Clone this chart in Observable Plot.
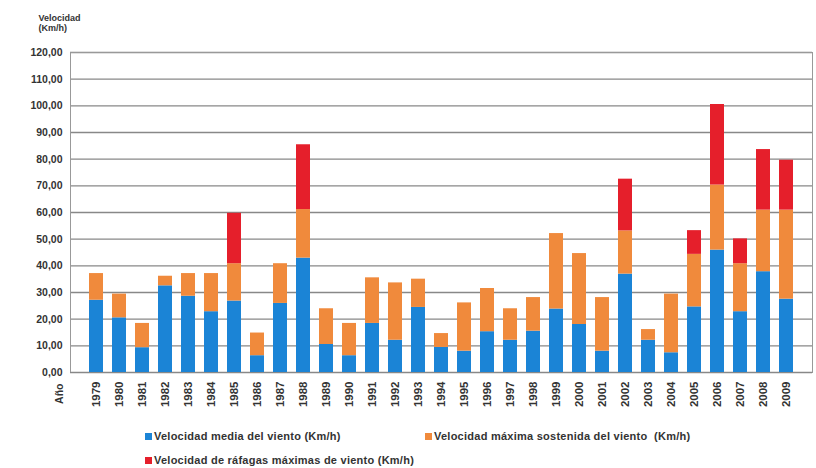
<!DOCTYPE html>
<html>
<head>
<meta charset="utf-8">
<script src="https://cdn.jsdelivr.net/npm/d3@7"></script>
<script src="https://cdn.jsdelivr.net/npm/@observablehq/plot@0.6"></script>
<style>
  html, body { margin: 0; padding: 0; background: #fff; }
  #chart { position: relative; width: 816px; height: 468px; font-family: "Liberation Sans", Arial, sans-serif; }
  .legend { position: absolute; left: 145px; top: 430px; font-size: 11px; letter-spacing: 0.25px; font-weight: bold; color: #333; display: grid; grid-template-columns: 280px 330px; row-gap: 12px; }
  .legend span.sw { display: inline-block; width: 7px; height: 7px; margin-right: 2px; vertical-align: 0px; }
</style>
</head>
<body>
<div id="chart"></div>
<script>
const years = ["1979","1980","1981","1982","1983","1984","1985","1986","1987","1988","1989","1990","1991","1992","1993","1994","1995","1996","1997","1998","1999","2000","2001","2002","2003","2004","2005","2006","2007","2008","2009"];
// stacked segment heights (km/h)
const media = [27.1,20.5,9.3,32.5,28.6,22.8,26.8,6.3,25.9,42.9,10.5,6.3,18.4,12.1,24.4,9.4,8.0,15.3,12.1,15.5,23.8,18.0,8.0,36.9,12.1,7.4,24.6,45.9,22.8,37.8,27.5];
const sostenida = [10.0,8.9,9.1,3.6,8.5,14.3,14.0,8.5,14.9,18.2,13.4,12.1,17.1,21.5,10.6,5.2,18.1,16.2,11.8,12.6,28.3,26.6,20.1,16.2,4.0,22.0,19.7,24.4,18.0,23.1,33.4];
const rafagas = [0,0,0,0,0,0,18.9,0,0,24.3,0,0,0,0,0,0,0,0,0,0,0,0,0,19.4,0,0,8.9,30.2,9.3,22.7,18.7];
const seriesNames = ["Velocidad media del viento (Km/h)", "Velocidad máxima sostenida del viento  (Km/h)", "Velocidad de ráfagas máximas de viento (Km/h)"];
const seriesColors = ["#1b84d6", "#f08a3c", "#e51f2b"];
const yTicks = [0,10,20,30,40,50,60,70,80,90,100,110,120];
const yLabel = "Velocidad\n(Km/h)";
const xLabel = "Año";

const rows = [];
years.forEach((y, i) => {
  rows.push({year: y, serie: seriesNames[0], value: media[i]});
  rows.push({year: y, serie: seriesNames[1], value: sostenida[i]});
  rows.push({year: y, serie: seriesNames[2], value: rafagas[i]});
});

const fmt = d => d.toFixed(2).replace(".", ",");

const plot = Plot.plot({
  width: 816,
  height: 420,
  marginTop: 52,
  marginBottom: 48,
  marginLeft: 70,
  marginRight: 4,
  style: {fontFamily: "Liberation Sans, Arial, sans-serif", fontSize: "10.5px", fontWeight: "bold", color: "#333", background: "#fff"},
  x: {domain: years, padding: 0.4, label: null, tickSize: 0, tickRotate: -90, tickPadding: 9},
  y: {domain: [0, 120], ticks: yTicks, tickFormat: fmt, label: null, tickSize: 0, tickPadding: 8},
  color: {domain: seriesNames, range: seriesColors},
  marks: [
    Plot.gridY(yTicks, {stroke: "#888", strokeOpacity: 1, strokeWidth: 1.3}),
    Plot.frame({stroke: "#999"}),
    Plot.barY(rows, Plot.stackY({x: "year", y: "value", fill: "serie", order: seriesNames})),
    Plot.ruleY([0], {stroke: "#888"}),
    Plot.text([xLabel], {frameAnchor: "bottom-left", dx: -8, dy: 11, rotate: -90, textAnchor: "end", fontWeight: "bold", fontSize: 10.5}),
    Plot.text([yLabel], {frameAnchor: "top-left", dx: -32, dy: -39, fontWeight: "bold", fontSize: 9, lineHeight: 1.15})
  ]
});
document.getElementById("chart").appendChild(plot);
plot.querySelectorAll('g[aria-label="x-axis tick label"] text').forEach(t => t.style.fontSize = "11.5px");

const legend = document.createElement("div");
legend.className = "legend";
seriesNames.forEach((n, i) => {
  const d = document.createElement("div");
  d.innerHTML = `<span class="sw" style="background:${seriesColors[i]}"></span>${n}`;
  d.style.whiteSpace = "pre";
  legend.appendChild(d);
});
document.getElementById("chart").appendChild(legend);
</script>
</body>
</html>
